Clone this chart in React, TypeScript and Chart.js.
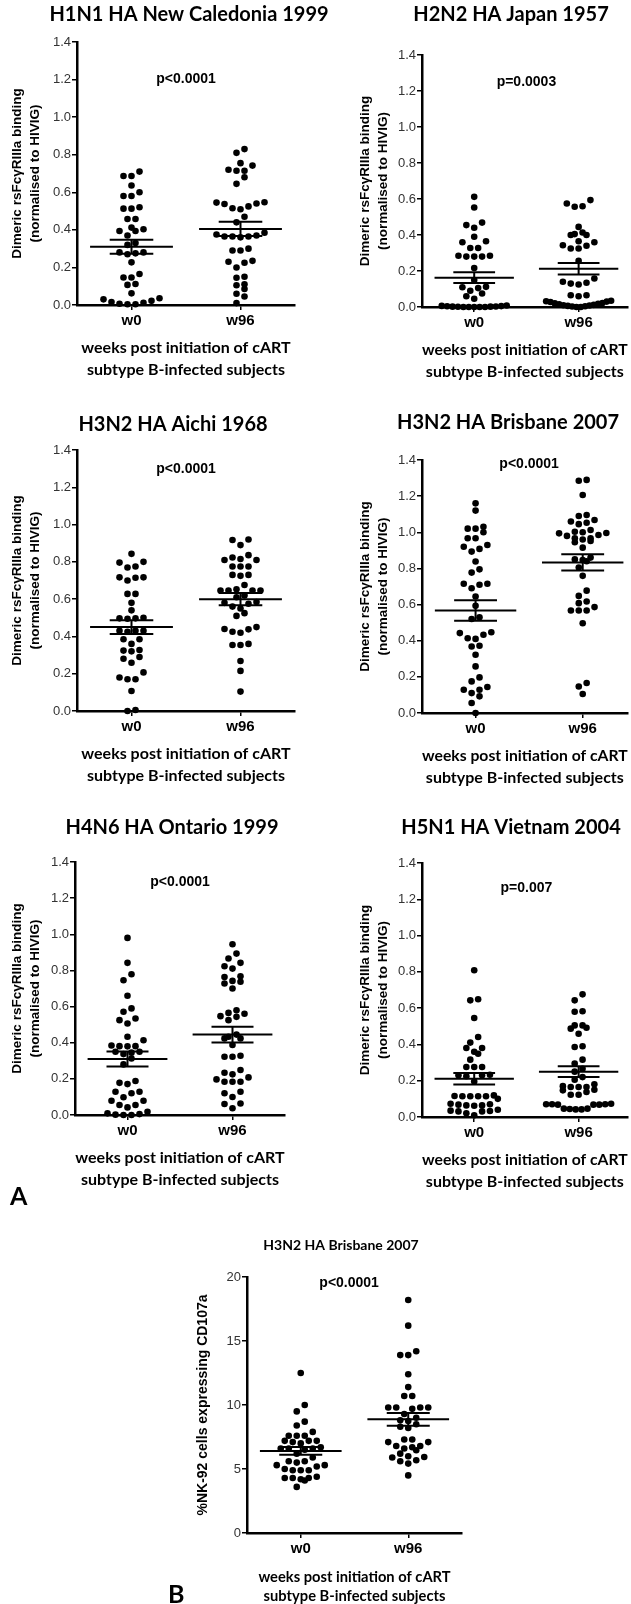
import React, { useEffect, useRef } from "react";
import { Chart, registerables } from "chart.js";

Chart.register(...registerables);

// ---------- data ----------
const groups = ["w0", "w96"];
const bindingTicks = [0, 0.2, 0.4, 0.6, 0.8, 1.0, 1.2, 1.4];
const nkTicks = [0, 5, 10, 15, 20];
const bindingTitle = ["Dimeric rsFcγRIIIa binding", "(normalised to HIVIG)"];
const nkTitle = ["%NK-92 cells expressing CD107a"];
const xAxisTitle = ["weeks post initiation of cART", "subtype B-infected subjects"];

const h1n1W0 = [0.71, 0.687, 0.687, 0.636, 0.6, 0.58, 0.58, 0.52, 0.513, 0.513, 0.458, 0.458, 0.412, 0.403, 0.394, 0.394, 0.37, 0.33, 0.32, 0.28, 0.28, 0.275, 0.27, 0.227, 0.165, 0.146, 0.146, 0.112, 0.107, 0.062, 0.036, 0.03, 0.022, 0.016, 0.012, 0.007, 0.004, 0.004];
const h1n1W96 = [0.83, 0.81, 0.755, 0.742, 0.72, 0.715, 0.715, 0.68, 0.645, 0.547, 0.545, 0.54, 0.538, 0.525, 0.515, 0.51, 0.47, 0.44, 0.385, 0.375, 0.37, 0.365, 0.365, 0.365, 0.36, 0.3, 0.29, 0.29, 0.235, 0.23, 0.225, 0.2, 0.15, 0.145, 0.11, 0.105, 0.085, 0.06, 0.045, 0.01];
const h1n1Mean = [0.31, 0.405];
const h1n1Sem = [0.037, 0.038];

const h2n2W0 = [0.612, 0.553, 0.469, 0.455, 0.44, 0.39, 0.365, 0.36, 0.328, 0.328, 0.285, 0.28, 0.28, 0.28, 0.285, 0.217, 0.15, 0.112, 0.11, 0.105, 0.09, 0.075, 0.06, 0.046, 0.008, 0.006, 0.004, 0.003, 0.002, 0.001, 0, 0, 0, 0, 0, 0.002, 0.005];
const h2n2W96 = [0.594, 0.575, 0.56, 0.557, 0.445, 0.414, 0.405, 0.4, 0.4, 0.365, 0.36, 0.343, 0.34, 0.325, 0.325, 0.256, 0.158, 0.14, 0.13, 0.125, 0.135, 0.065, 0.065, 0.06, 0.035, 0.032, 0.028, 0.022, 0.018, 0.012, 0.008, 0.004, 0, 0, 0.003, 0.006, 0.01, 0.015, 0.02, 0.03];
const h2n2Mean = [0.163, 0.213];
const h2n2Sem = [0.03, 0.032];

const aichiW0 = [0.843, 0.8, 0.796, 0.775, 0.77, 0.717, 0.717, 0.715, 0.7, 0.628, 0.628, 0.58, 0.54, 0.5, 0.497, 0.497, 0.495, 0.43, 0.43, 0.43, 0.425, 0.385, 0.385, 0.36, 0.327, 0.324, 0.32, 0.29, 0.28, 0.259, 0.207, 0.18, 0.17, 0.17, 0.107, 0.005, 0];
const aichiW96 = [0.92, 0.917, 0.89, 0.836, 0.823, 0.815, 0.81, 0.81, 0.775, 0.775, 0.775, 0.73, 0.73, 0.725, 0.676, 0.653, 0.646, 0.646, 0.646, 0.646, 0.62, 0.61, 0.585, 0.58, 0.575, 0.56, 0.55, 0.525, 0.51, 0.45, 0.44, 0.438, 0.425, 0.42, 0.36, 0.354, 0.354, 0.268, 0.215, 0.104];
const aichiMean = [0.45, 0.6];
const aichiSem = [0.037, 0.033];

const brisbaneW0 = [1.16, 1.12, 1.03, 1.02, 1.02, 1.0, 0.967, 0.967, 0.93, 0.92, 0.908, 0.893, 0.838, 0.795, 0.777, 0.715, 0.715, 0.71, 0.69, 0.645, 0.593, 0.53, 0.52, 0.447, 0.442, 0.433, 0.414, 0.41, 0.372, 0.368, 0.322, 0.258, 0.197, 0.175, 0.144, 0.129, 0.129, 0.11, 0.092, 0.055, 0];
const brisbaneW96 = [1.29, 1.285, 1.206, 1.096, 1.09, 1.068, 1.06, 1.053, 1.045, 1.013, 1.003, 1.0, 0.996, 0.994, 0.985, 0.98, 0.967, 0.967, 0.96, 0.952, 0.945, 0.915, 0.86, 0.85, 0.847, 0.84, 0.805, 0.759, 0.677, 0.648, 0.617, 0.608, 0.586, 0.567, 0.567, 0.567, 0.497, 0.166, 0.147, 0.105];
const brisbaneMean = [0.567, 0.833];
const brisbaneSem = [0.057, 0.045];

const ontarioW0 = [0.98, 0.842, 0.779, 0.746, 0.66, 0.59, 0.571, 0.534, 0.525, 0.506, 0.433, 0.414, 0.385, 0.381, 0.381, 0.38, 0.35, 0.35, 0.345, 0.337, 0.313, 0.28, 0.188, 0.178, 0.171, 0.129, 0.129, 0.12, 0.098, 0.079, 0.079, 0.055, 0.055, 0.042, 0.018, 0.009, 0.005, 0, 0, 0.002];
const ontarioW96 = [0.945, 0.893, 0.866, 0.842, 0.823, 0.81, 0.768, 0.764, 0.742, 0.737, 0.728, 0.7, 0.58, 0.565, 0.56, 0.547, 0.543, 0.525, 0.445, 0.433, 0.424, 0.424, 0.387, 0.328, 0.322, 0.322, 0.249, 0.234, 0.225, 0.208, 0.197, 0.184, 0.184, 0.184, 0.129, 0.12, 0.1, 0.064, 0.061, 0.037];
const ontarioMean = [0.31, 0.445];
const ontarioSem = [0.042, 0.044];

const vietnamW0 = [0.809, 0.649, 0.643, 0.546, 0.441, 0.41, 0.38, 0.38, 0.36, 0.349, 0.316, 0.276, 0.276, 0.276, 0.233, 0.23, 0.23, 0.225, 0.196, 0.119, 0.116, 0.114, 0.114, 0.114, 0.114, 0.1, 0.073, 0.07, 0.068, 0.064, 0.064, 0.062, 0.035, 0.033, 0.031, 0.031, 0.009, 0.02, 0.04];
const vietnamW96 = [0.676, 0.643, 0.583, 0.58, 0.505, 0.505, 0.492, 0.487, 0.459, 0.39, 0.386, 0.316, 0.294, 0.266, 0.25, 0.22, 0.205, 0.18, 0.165, 0.165, 0.165, 0.17, 0.15, 0.147, 0.138, 0.123, 0.123, 0.073, 0.07, 0.068, 0.068, 0.07, 0.07, 0.068, 0.046, 0.044, 0.042, 0.042, 0.046];
const vietnamMean = [0.211, 0.25];
const vietnamSem = [0.032, 0.03];

const nkW0 = [12.5, 10.0, 9.5, 8.7, 8.4, 7.9, 7.6, 7.6, 7.6, 7.2, 7.2, 7.2, 7.1, 7.0, 6.7, 6.6, 6.6, 6.6, 6.5, 6.2, 5.9, 5.6, 5.6, 5.5, 5.3, 5.3, 5.2, 5.0, 4.9, 4.9, 4.9, 4.4, 4.3, 4.3, 4.3, 4.2, 4.1, 3.6];
const nkW96 = [18.2, 16.2, 14.2, 13.9, 13.9, 12.4, 11.4, 10.7, 10.7, 9.8, 9.8, 9.8, 9.8, 9.7, 9.3, 9.0, 8.8, 8.75, 8.5, 8.3, 8.2, 7.3, 7.3, 7.1, 7.1, 6.8, 6.8, 6.7, 6.6, 6.46, 6.2, 6.0, 5.94, 5.9, 5.68, 5.6, 5.42, 4.5];
const nkMean = [6.41, 8.88];
const nkSem = [0.3, 0.5];

// ---------- panel layout ----------
type Panel = {
  title: string; titleAt: [number, number]; titleSize: number;
  pText: string; pAt: [number, number];
  w0: number[]; w96: number[]; mean: number[]; sem: number[];
  yTicks: number[]; yMax: number; decimals: number;
  yTitle: string[]; yTitleX: number; yTitleSize: number; yTitleLH: number;
  xTitleSize: number; xTitleGap: number; xTitleLH: number;
  box: [number, number, number, number];
  area: [number, number, number, number];
  xMax: number;
};

const panels: Panel[] = [
  { title: "H1N1 HA New Caledonia 1999", titleAt: [189, 15], titleSize: 20, pText: "p<0.0001", pAt: [0.5, 1.2],
    w0: h1n1W0, w96: h1n1W96, mean: h1n1Mean, sem: h1n1Sem, yTicks: bindingTicks, yMax: 1.4, decimals: 1,
    yTitle: bindingTitle, yTitleX: 17, yTitleSize: 13.5, yTitleLH: 18, xTitleSize: 16, xTitleGap: 43, xTitleLH: 22,
    box: [0, 0, 345, 385], area: [77, 295, 42, 305], xMax: 1.5 },
  { title: "H2N2 HA Japan 1957", titleAt: [511, 15], titleSize: 20, pText: "p=0.0003", pAt: [0.5, 1.25],
    w0: h2n2W0, w96: h2n2W96, mean: h2n2Mean, sem: h2n2Sem, yTicks: bindingTicks, yMax: 1.4, decimals: 1,
    yTitle: bindingTitle, yTitleX: 365, yTitleSize: 13.5, yTitleLH: 18, xTitleSize: 16, xTitleGap: 43, xTitleLH: 22,
    box: [315, 0, 316, 385], area: [422, 631, 55, 307], xMax: 1.47 },
  { title: "H3N2 HA Aichi 1968", titleAt: [173, 425], titleSize: 20, pText: "p<0.0001", pAt: [0.5, 1.3],
    w0: aichiW0, w96: aichiW96, mean: aichiMean, sem: aichiSem, yTicks: bindingTicks, yMax: 1.4, decimals: 1,
    yTitle: bindingTitle, yTitleX: 17, yTitleSize: 13.5, yTitleLH: 18, xTitleSize: 16, xTitleGap: 43, xTitleLH: 22,
    box: [0, 385, 345, 405], area: [77, 295, 450, 711], xMax: 1.5 },
  { title: "H3N2 HA Brisbane 2007", titleAt: [508, 423], titleSize: 20, pText: "p<0.0001", pAt: [0.5, 1.376],
    w0: brisbaneW0, w96: brisbaneW96, mean: brisbaneMean, sem: brisbaneSem, yTicks: bindingTicks, yMax: 1.4, decimals: 1,
    yTitle: bindingTitle, yTitleX: 365, yTitleSize: 13.5, yTitleLH: 18, xTitleSize: 16, xTitleGap: 43, xTitleLH: 22,
    box: [315, 385, 316, 405], area: [422, 631, 460, 713], xMax: 1.42 },
  { title: "H4N6 HA Ontario 1999", titleAt: [172, 828], titleSize: 20, pText: "p<0.0001", pAt: [0.5, 1.29],
    w0: ontarioW0, w96: ontarioW96, mean: ontarioMean, sem: ontarioSem, yTicks: bindingTicks, yMax: 1.4, decimals: 1,
    yTitle: bindingTitle, yTitleX: 17, yTitleSize: 13.5, yTitleLH: 18, xTitleSize: 16, xTitleGap: 43, xTitleLH: 22,
    box: [0, 790, 345, 405], area: [75, 285, 862, 1115], xMax: 1.5 },
  { title: "H5N1 HA Vietnam 2004", titleAt: [511, 828], titleSize: 20, pText: "p=0.007", pAt: [0.5, 1.26],
    w0: vietnamW0, w96: vietnamW96, mean: vietnamMean, sem: vietnamSem, yTicks: bindingTicks, yMax: 1.4, decimals: 1,
    yTitle: bindingTitle, yTitleX: 365, yTitleSize: 13.5, yTitleLH: 18, xTitleSize: 16, xTitleGap: 43, xTitleLH: 22,
    box: [315, 790, 316, 405], area: [422, 631, 863, 1117], xMax: 1.47 },
  { title: "H3N2 HA Brisbane 2007", titleAt: [341, 1245], titleSize: 14, pText: "p<0.0001", pAt: [0.45, 19.5],
    w0: nkW0, w96: nkW96, mean: nkMean, sem: nkSem, yTicks: nkTicks, yMax: 20, decimals: 0,
    yTitle: nkTitle, yTitleX: 203, yTitleSize: 14, yTitleLH: 17, xTitleSize: 14.7, xTitleGap: 44, xTitleLH: 19,
    box: [150, 1205, 330, 399], area: [247, 462, 1277, 1533], xMax: 1.5 },
];

const X_MIN = -0.5;

// GraphPad-like row swarm: values are grouped in rows by their pixel height,
// each row is spread symmetrically around the group centre.
function swarm(values: number[], center: number, pxX: number, pxY: number) {
  const rowPx = 7, stepPx = 8, maxHalfPx = 33;
  const sorted = [...values].sort((a, b) => a - b);
  const rows: number[][] = [];
  let cur: number[] = [];
  for (const v of sorted) {
    if (cur.length && (v - cur[0]) * pxY > rowPx) { rows.push(cur); cur = []; }
    cur.push(v);
  }
  if (cur.length) rows.push(cur);
  const out: { x: number; y: number }[] = [];
  for (const row of rows) {
    const n = row.length;
    let step = stepPx;
    if (n > 1 && ((n - 1) * step) / 2 > maxHalfPx) step = (2 * maxHalfPx) / (n - 1);
    const offs = Array.from({ length: n }, (_, i) => (i - (n - 1) / 2) * step);
    offs.sort((a, b) => Math.abs(a) - Math.abs(b) || a - b);
    row.forEach((v, i) => out.push({ x: center + offs[i] / pxX, y: v }));
  }
  return out;
}

function meanSem(mean: number[], sem: number[]) {
  const mw = 0.38, sw = 0.2;
  const gap = { x: NaN, y: NaN };
  const out: { x: number; y: number }[] = [];
  mean.forEach((m, c) => {
    const e = sem[c];
    out.push({ x: c - mw, y: m }, { x: c + mw, y: m }, gap,
      { x: c - sw, y: m + e }, { x: c + sw, y: m + e }, gap,
      { x: c - sw, y: m - e }, { x: c + sw, y: m - e }, gap,
      { x: c, y: m - e }, { x: c, y: m + e }, gap);
  });
  return out;
}

const decorPlugin = {
  id: "decor",
  afterDraw(chart: any, _args: any, opts: any) {
    const ctx = chart.ctx;
    ctx.save();
    ctx.fillStyle = "#000";
    ctx.textAlign = "center";
    ctx.textBaseline = "middle";
    ctx.font = `bold ${opts.titleSize}px Lato`;
    ctx.fillText(opts.title, opts.titleX, opts.titleY);
    ctx.font = 'bold 14px "Liberation Sans"';
    const px = chart.scales.x.getPixelForValue(opts.pAt[0]);
    const py = chart.scales.y.getPixelForValue(opts.pAt[1]);
    ctx.fillText(opts.pText, px, py);
    ctx.restore();
  },
};

function buildConfig(p: Panel): any {
  const [L, T, W, H] = p.box;
  const [cl, cr, ct, cb] = p.area;
  const pxX = (cr - cl) / (p.xMax - X_MIN);
  const pxY = (cb - ct) / p.yMax;
  const points = [...swarm(p.w0, 0, pxX, pxY), ...swarm(p.w96, 1, pxX, pxY)];
  const lh = p.xTitleLH;
  const xPadBottom = H - (cb - T) - p.xTitleGap - lh / 2 - lh;
  const yPadTop = p.yTitleX - L - p.yTitleLH / 2;
  const axisGrid = { display: true, drawOnChartArea: false, drawTicks: true, tickLength: 5, color: "#000", lineWidth: 1.5 };
  const axisBorder = { display: true, color: "#000", width: 2.5 };
  return {
    type: "scatter",
    data: {
      datasets: [
        { type: "scatter", data: points, pointRadius: 3.3, pointHoverRadius: 3.3, backgroundColor: "#000", borderWidth: 0, clip: false },
        { type: "line", data: meanSem(p.mean, p.sem), showLine: true, spanGaps: false, borderColor: "#000", borderWidth: 2,
          pointRadius: 0, fill: false, tension: 0, clip: false },
      ],
    },
    options: {
      responsive: false,
      animation: false,
      devicePixelRatio: 1,
      events: [],
      layout: { padding: { left: 0, top: ct - T, right: L + W - cr, bottom: 0 } },
      plugins: {
        legend: { display: false },
        tooltip: { enabled: false },
        title: { display: false },
        decor: { title: p.title, titleX: p.titleAt[0] - L, titleY: p.titleAt[1] - T, titleSize: p.titleSize, pText: p.pText, pAt: p.pAt },
      },
      scales: {
        x: {
          type: "linear", min: X_MIN, max: p.xMax,
          afterFit: (s: any) => { s.height = H - (cb - T); },
          afterBuildTicks: (s: any) => { s.ticks = groups.map((_, i) => ({ value: i })); },
          ticks: {
            callback: (v: any) => groups[Math.round(Number(v))] ?? "",
            font: { family: "Liberation Sans", weight: "bold", size: 15 }, color: "#000", padding: 2,
            maxRotation: 0, autoSkip: false,
          },
          grid: axisGrid,
          border: axisBorder,
          title: {
            display: true, text: xAxisTitle, color: "#000",
            font: { family: "Lato", weight: "bold", size: p.xTitleSize, lineHeight: lh / p.xTitleSize },
            padding: { top: 0, bottom: xPadBottom },
          },
        },
        y: {
          type: "linear", min: 0, max: p.yMax,
          afterFit: (s: any) => { s.width = cl - L; },
          afterBuildTicks: (s: any) => { s.ticks = p.yTicks.map((v) => ({ value: v })); },
          ticks: {
            callback: (v: any) => Number(v).toFixed(p.decimals),
            font: { family: "Liberation Sans", size: 13 }, color: "#333", padding: 1,
          },
          grid: axisGrid,
          border: axisBorder,
          title: {
            display: true, text: p.yTitle, color: "#000",
            font: { family: "Liberation Sans", weight: "bold", size: p.yTitleSize, lineHeight: p.yTitleLH / p.yTitleSize },
            padding: { top: yPadTop, bottom: 0 },
          },
        },
      },
    },
    plugins: [decorPlugin],
  };
}

function PanelChart({ p }: { p: Panel }) {
  const ref = useRef<HTMLCanvasElement>(null);
  useEffect(() => {
    const chart = new Chart(ref.current as HTMLCanvasElement, buildConfig(p));
    return () => chart.destroy();
  }, [p]);
  const [L, T, W, H] = p.box;
  return (
    <canvas ref={ref} width={W} height={H}
      style={{ position: "absolute", left: L, top: T, width: W, height: H }} />
  );
}

export default function App() {
  useEffect(() => {
    document.body.style.margin = "0";
  }, []);
  const letter: React.CSSProperties = {
    position: "absolute", fontFamily: "Lato, sans-serif", fontWeight: 700, fontSize: 25, lineHeight: "30px", color: "#000",
  };
  return (
    <div style={{ position: "absolute", left: 0, top: 0, width: 631, height: 1604, background: "#fff", overflow: "hidden" }}>
      {panels.map((p, i) => <PanelChart key={i} p={p} />)}
      <div style={{ ...letter, left: 10, top: 1180 }}>A</div>
      <div style={{ ...letter, left: 168, top: 1578 }}>B</div>
    </div>
  );
}
